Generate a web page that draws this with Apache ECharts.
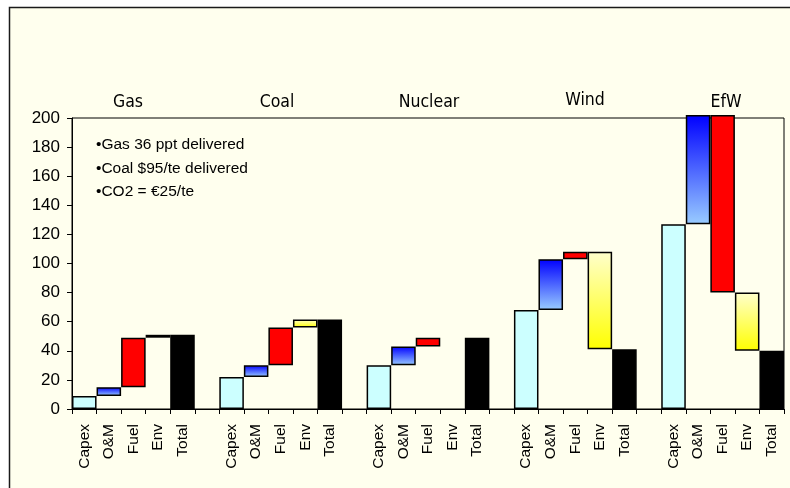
<!DOCTYPE html>
<html>
<head>
<meta charset="utf-8">
<script src="https://cdn.jsdelivr.net/npm/echarts@6/dist/echarts.min.js"></script>
<style>html,body{margin:0;padding:0;background:#fff}#c{width:790px;height:488px}</style>
</head>
<body>
<div id="c"></div>
<script>
// ---- data ----
const groups = ['Gas', 'Coal', 'Nuclear', 'Wind', 'EfW'];
const components = ['Capex', 'O&M', 'Fuel', 'Env', 'Total'];
const capex = [9, 22, 30, 68, 127];
const om    = [6, 8, 13, 35, 75];
const fuel  = [34, 26, 6, 5, -122];
const env   = [2, 5.5, 0, -67, -40];
const total = [51, 61.5, 49, 41, 40];
const yTicks = [0, 20, 40, 60, 80, 100, 120, 140, 160, 180, 200];
const notes = ['\u2022Gas 36 ppt delivered', '\u2022Coal $95/te delivered', '\u2022CO2 = \u20ac25/te'];

// ---- styles ----
const fills = [
  '#CCFFFF',
  {type:'linear',x:0,y:0,x2:0,y2:1,colorStops:[{offset:0,color:'#0000FF'},{offset:1,color:'#99CCFF'}]},
  '#FF0000',
  {type:'linear',x:0,y:0,x2:0,y2:1,colorStops:[{offset:0,color:'#FFFFCC'},{offset:1,color:'#FFFF00'}]},
  '#000000'
];

const categories = [];
const baseData = [];
const barData = [];
groups.forEach((g, gi) => {
  const steps = [capex[gi], om[gi], fuel[gi], env[gi]];
  let level = 0;
  steps.forEach((s, k) => {
    categories.push(components[k]);
    const start = level, end = level + s;
    level = end;
    if (s === 0) { baseData.push('-'); barData.push('-'); return; }
    baseData.push(Math.min(start, end));
    barData.push({value: Math.abs(s), itemStyle: {color: fills[k]}});
  });
  categories.push('Total');
  baseData.push(0);
  barData.push({value: total[gi], itemStyle: {color: fills[4]}});
  if (gi < groups.length - 1) {
    categories.push('');
    baseData.push('-');
    barData.push('-');
  }
});

const chart = echarts.init(document.getElementById('c'));
const font = 'Liberation Sans, Arial, sans-serif';
const titlePos = [[128, 102], [277, 102], [429, 102], [585, 100], [726, 102]];
const graphics = [
  {type:'rect', z:-100, silent:true, shape:{x:9.5, y:7.5, width:900, height:600},
   style:{fill:'#FFFFEE', stroke:'#1a1a1a', lineWidth:1.5}}
];
groups.forEach((g, i) => graphics.push({
  type:'text', x:titlePos[i][0], y:titlePos[i][1], z:10,
  style:{text:g, fill:'#000', font:'17.5px "DejaVu Sans Condensed", sans-serif', textAlign:'center', textVerticalAlign:'middle'}
}));
notes.forEach((t, i) => graphics.push({
  type:'text', x:96, y:145 + i * 23.5, z:10,
  style:{text:t, fill:'#000', font:'15.5px ' + font, textAlign:'left', textVerticalAlign:'middle'}
}));

chart.setOption({
  backgroundColor: '#ffffff',
  animation: false,
  graphic: graphics,
  grid: {left:72, top:118, right:6, bottom:79, show:true, borderColor:'#000', borderWidth:1, backgroundColor:'transparent'},
  xAxis: {
    type:'category', data:categories,
    axisLine:{show:true, lineStyle:{color:'#000', width:1}},
    axisTick:{show:true, interval:0, length:5, lineStyle:{color:'#000'}},
    axisLabel:{interval:0, rotate:90, fontSize:15.5, fontFamily:font, color:'#000', margin:15}
  },
  yAxis: {
    type:'value', min:yTicks[0], max:yTicks[yTicks.length-1], interval:yTicks[1]-yTicks[0],
    axisLine:{show:true, lineStyle:{color:'#000', width:1}},
    axisTick:{show:true, length:5, lineStyle:{color:'#000'}},
    axisLabel:{fontSize:17, fontFamily:font, color:'#000', margin:12},
    splitLine:{show:false}
  },
  series: [
    {type:'bar', stack:'w', data:baseData, itemStyle:{color:'transparent'}, barCategoryGap:'0%', silent:true, clip:false},
    {type:'bar', stack:'w', data:barData, barCategoryGap:'0%', clip:false,
     itemStyle:{borderColor:'#000', borderWidth:1.5}}
  ]
});
</script>
</body>
</html>
